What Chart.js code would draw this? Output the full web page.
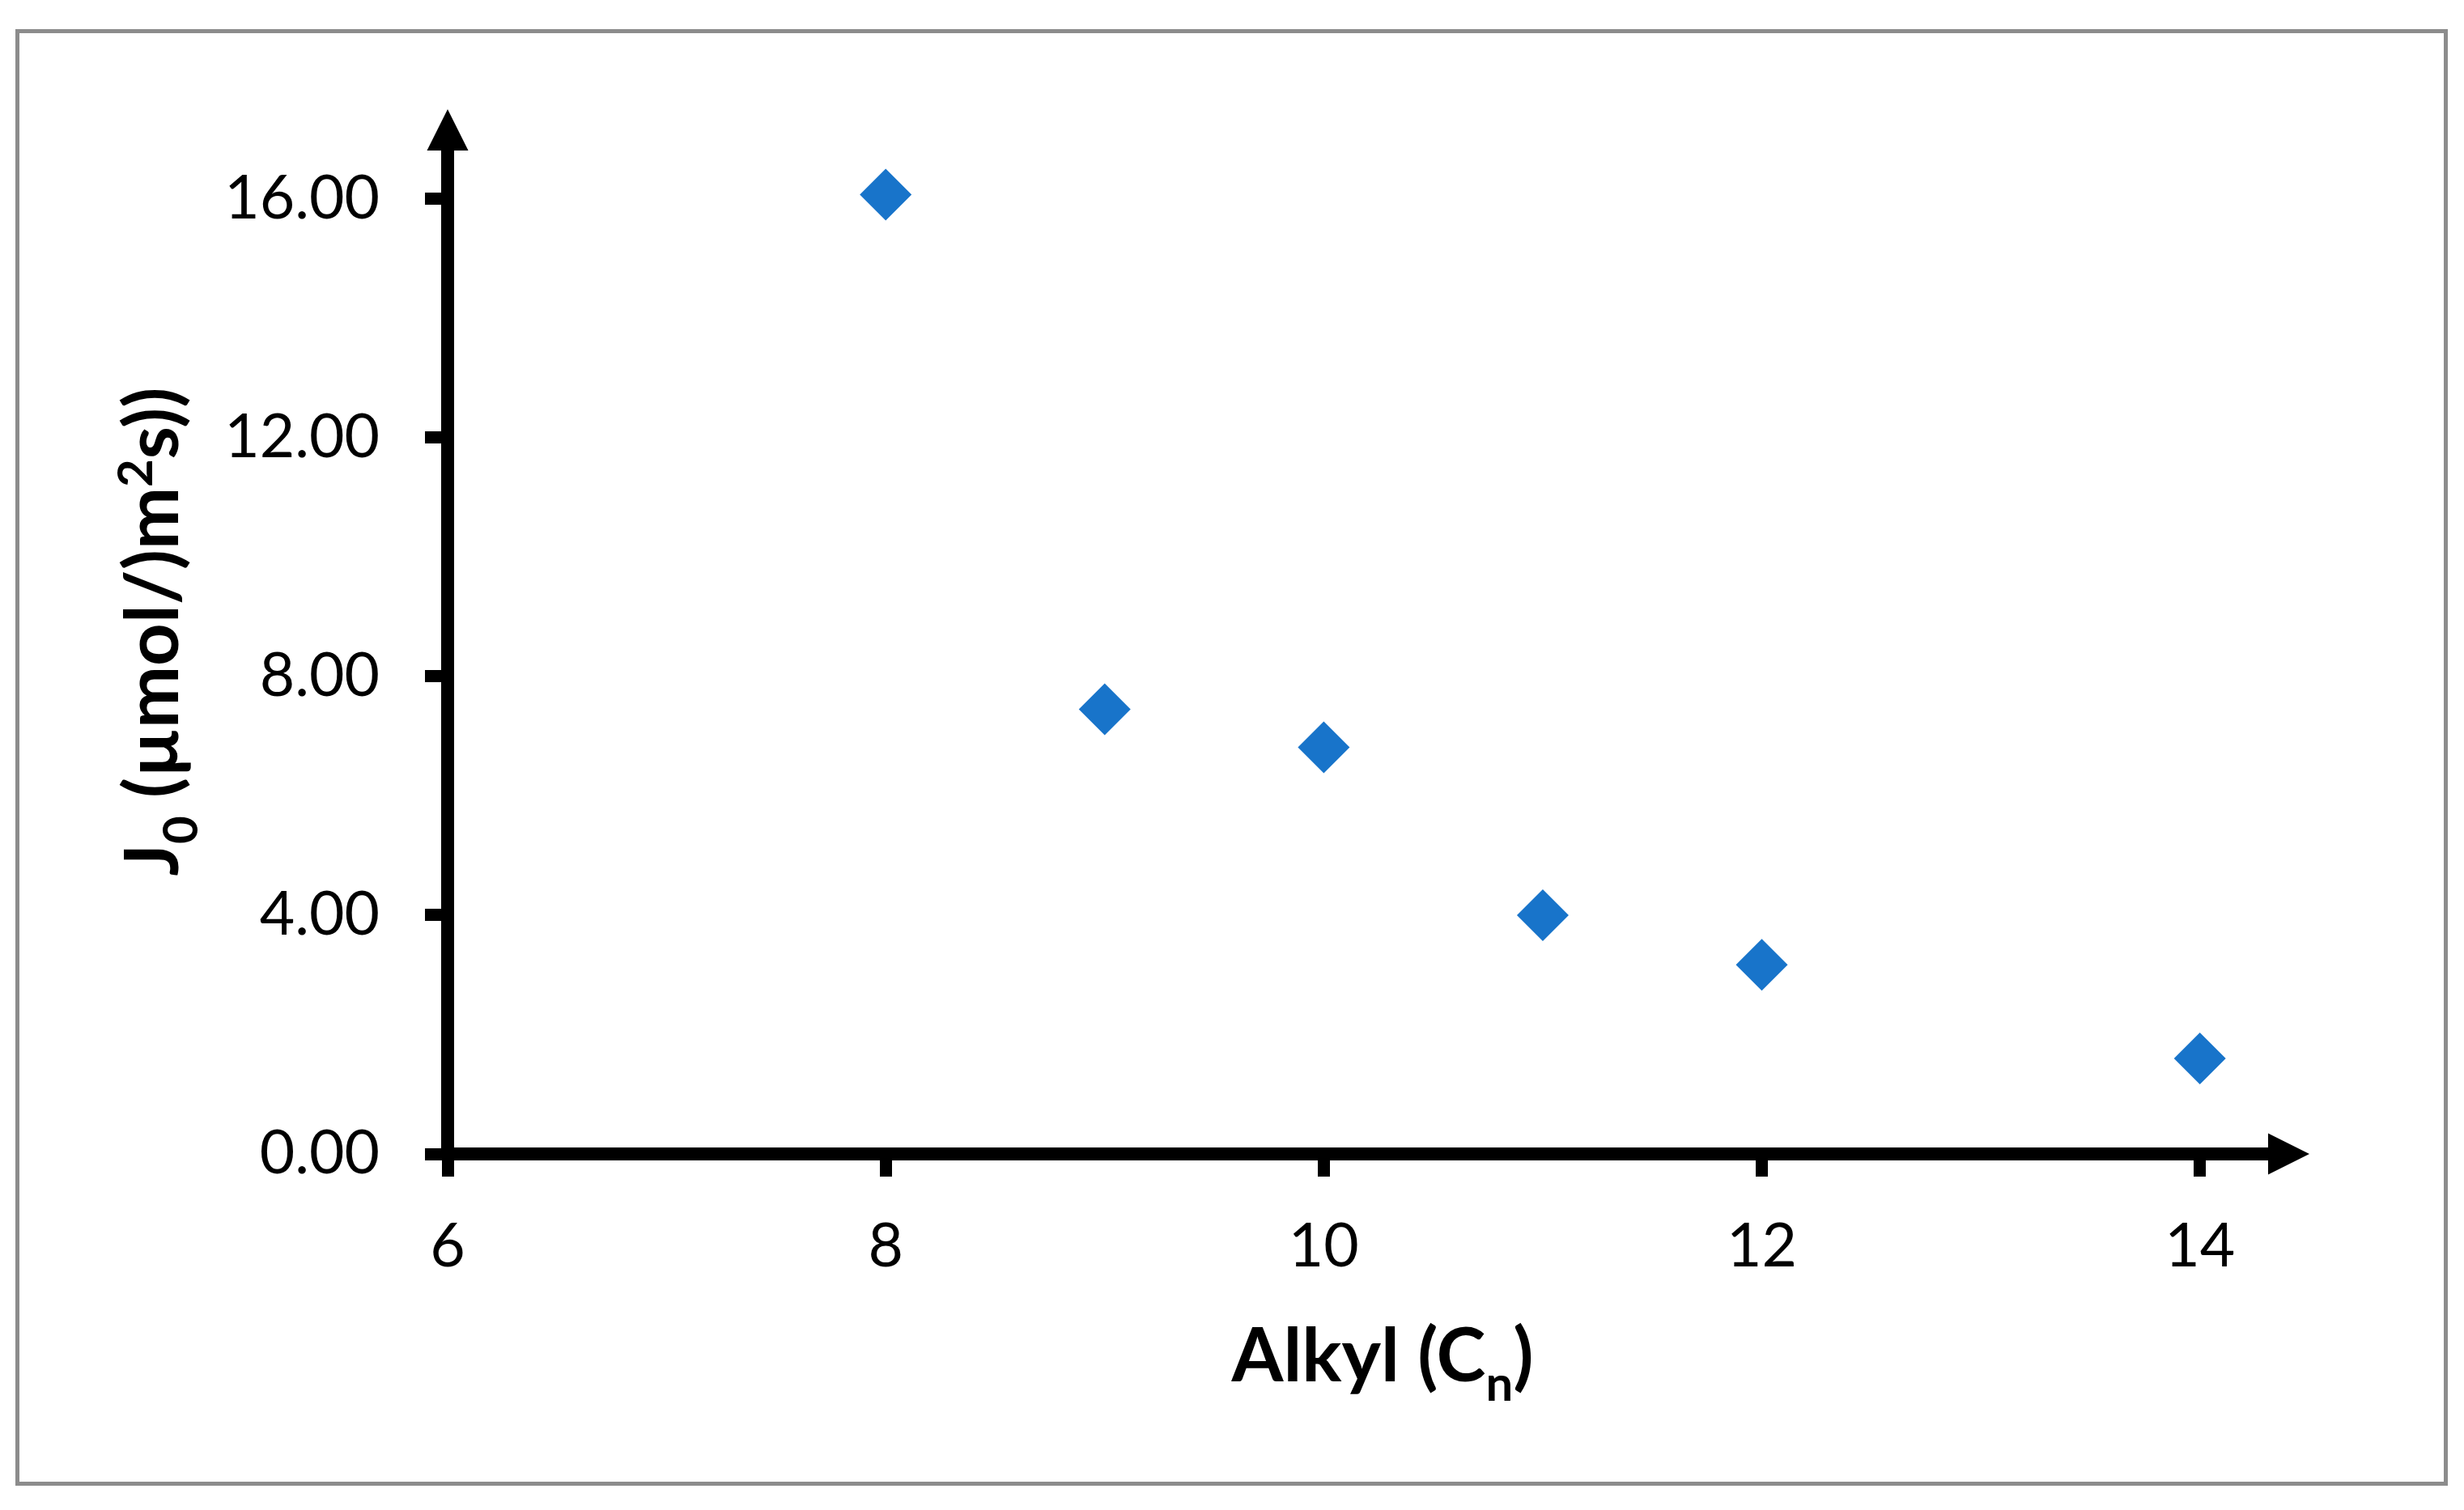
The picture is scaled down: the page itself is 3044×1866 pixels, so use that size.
<!DOCTYPE html>
<html>
<head>
<meta charset="utf-8">
<script src="https://cdn.jsdelivr.net/npm/chart.js@4/dist/chart.umd.min.js"></script>
<style>
  html, body { margin: 0; padding: 0; background: #fff; }
  canvas { display: block; }
</style>
</head>
<body>
<canvas id="chart" width="3044" height="1866"></canvas>
<script>
// data
const alkylChain = [8, 9, 10, 11, 12, 14];
const fluxValues = [16.07, 7.45, 6.81, 4.00, 3.17, 1.60];
const xTickValues = [6, 8, 10, 12, 14];
const yTickValues = [0, 4, 8, 12, 16];

const xTitle = [{ t: 'Alkyl (C' }, { t: 'n', sub: true }, { t: ')' }];
const yTitle = [{ t: 'J' }, { t: '0', sub: true }, { t: ' (\u00b5mol/)m' }, { t: '2', sup: true }, { t: 's))' }];

const FONT = 'Lato, "Open Sans", sans-serif';

function drawRich(ctx, parts, cx, baseline, size) {
    const pieces = parts.map(p => {
        const s = (p.sub || p.sup) ? size * 0.65 : size;
        ctx.font = `bold ${s}px ${FONT}`;
        return { t: p.t, s: s, w: ctx.measureText(p.t).width,
                 dy: p.sub ? size * 0.26 : (p.sup ? -size * 0.35 : 0) };
    });
    const total = pieces.reduce((a, p) => a + p.w, 0);
    let x = cx - total / 2;
    ctx.textBaseline = 'alphabetic';
    ctx.textAlign = 'left';
    pieces.forEach(p => {
        ctx.font = `bold ${p.s}px ${FONT}`;
        ctx.fillText(p.t, x, baseline + p.dy);
        x += p.w;
    });
}

const axesPlugin = {
    id: 'axesPlugin',
    beforeDraw(chart) {
        const ctx = chart.ctx;
        ctx.save();
        ctx.fillStyle = '#fff';
        ctx.fillRect(0, 0, chart.width, chart.height);
        ctx.strokeStyle = '#8c8c8c';
        ctx.lineWidth = 5;
        ctx.strokeRect(21.5, 38.5, 3000, 1795);
        ctx.restore();
    },
    beforeDatasetsDraw(chart) {
        const ctx = chart.ctx;
        const xs = chart.scales.x, ys = chart.scales.y;
        const x0 = xs.getPixelForValue(xs.min);
        const y0 = ys.getPixelForValue(0);
        const xTip = xs.getPixelForValue(xs.max);
        const yTip = ys.getPixelForValue(ys.max);
        const head = 51, half = 25.5, lw = 16;
        ctx.save();
        ctx.fillStyle = '#000';
        // x axis line + arrow
        ctx.fillRect(x0 - lw / 2, y0 - lw / 2, xTip - head - x0 + lw / 2, lw);
        ctx.beginPath();
        ctx.moveTo(xTip, y0);
        ctx.lineTo(xTip - head, y0 - half);
        ctx.lineTo(xTip - head, y0 + half);
        ctx.closePath();
        ctx.fill();
        // y axis line + arrow
        ctx.fillRect(x0 - lw / 2, yTip + head, lw, y0 + lw / 2 - yTip - head);
        ctx.beginPath();
        ctx.moveTo(x0, yTip);
        ctx.lineTo(x0 - half, yTip + head);
        ctx.lineTo(x0 + half, yTip + head);
        ctx.closePath();
        ctx.fill();
        ctx.restore();
    },
    afterDraw(chart) {
        const ctx = chart.ctx;
        const area = chart.chartArea;
        ctx.save();
        ctx.fillStyle = '#000';
        drawRich(ctx, xTitle, (area.left + area.right) / 2 + 5, 1707, 92);
        ctx.translate(220, (area.top + area.bottom) / 2);
        ctx.rotate(-Math.PI / 2);
        drawRich(ctx, yTitle, 0, 0, 92);
        ctx.restore();
    }
};

new Chart(document.getElementById('chart'), {
    type: 'scatter',
    data: {
        datasets: [{
            data: alkylChain.map((x, i) => ({ x: x, y: fluxValues[i] })),
            pointStyle: 'rectRot',
            pointRadius: 32,
            pointHoverRadius: 32,
            pointBorderWidth: 0,
            backgroundColor: '#1874CA',
            borderColor: '#1874CA'
        }]
    },
    options: {
        responsive: false,
        animation: false,
        events: [],
        layout: { padding: { left: 0, top: 135, right: 191, bottom: 0 } },
        plugins: { legend: { display: false }, tooltip: { enabled: false } },
        scales: {
            x: {
                type: 'linear',
                min: 6,
                max: 14.5,
                afterBuildTicks: s => { s.ticks = xTickValues.map(v => ({ value: v })); },
                afterFit: s => { s.height = 440; },
                border: { display: false },
                grid: { drawOnChartArea: false, drawTicks: true, tickLength: 28, tickWidth: 15, tickColor: '#000' },
                ticks: {
                    autoSkip: false, maxRotation: 0, padding: 42, color: '#000',
                    font: { family: FONT, size: 75 },
                    callback: v => String(v)
                }
            },
            y: {
                type: 'linear',
                min: 0,
                max: 17.5,
                afterBuildTicks: s => { s.ticks = yTickValues.map(v => ({ value: v })); },
                afterFit: s => { s.width = 553; },
                border: { display: false },
                grid: { drawOnChartArea: false, drawTicks: true, tickLength: 28, tickWidth: 15, tickColor: '#000' },
                ticks: {
                    autoSkip: false, padding: 56, color: '#000',
                    font: { family: FONT, size: 75 },
                    callback: v => v.toFixed(2)
                }
            }
        }
    },
    plugins: [axesPlugin]
});
</script>
</body>
</html>
